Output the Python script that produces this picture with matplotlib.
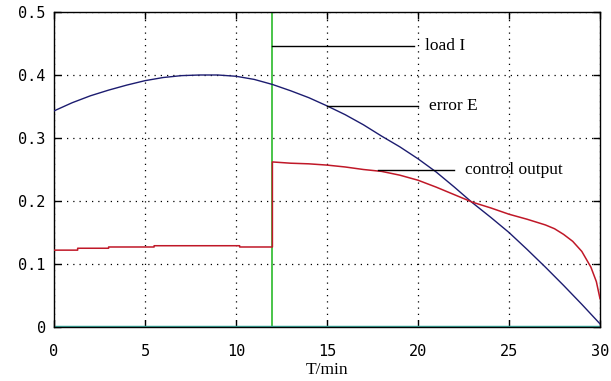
import matplotlib
matplotlib.use("Agg")
import matplotlib.pyplot as plt
import numpy as np

# error E (blue)
err_t = [0, 1, 2, 3, 4, 5, 6, 7, 8, 9, 10, 11, 12, 13, 14, 15, 16, 17, 18, 19, 20,
         21, 22, 23, 24, 25, 26, 27, 28, 29, 30]
err_v = [0.343, 0.356, 0.367, 0.376, 0.384, 0.391, 0.396, 0.399, 0.400, 0.400, 0.398,
         0.393, 0.385, 0.375, 0.364, 0.351, 0.337, 0.321, 0.303, 0.286, 0.267,
         0.246, 0.222, 0.197, 0.174, 0.150, 0.123, 0.095, 0.066, 0.036, 0.005]

# control output (red)
ctl_t = [0, 1.3, 1.3, 3.0, 3.0, 5.5, 5.5, 10.2, 10.2, 12.0, 12.0, 13, 14, 15, 16, 17,
         18, 19, 20, 21, 22, 23, 24, 25, 26, 27, 27.5, 28, 28.5, 29, 29.5, 29.8, 30]
ctl_v = [0.122, 0.122, 0.125, 0.125, 0.127, 0.127, 0.129, 0.129, 0.127, 0.127, 0.262,
         0.260, 0.259, 0.257, 0.254, 0.250, 0.247, 0.241, 0.233, 0.222, 0.210, 0.198,
         0.189, 0.179, 0.171, 0.162, 0.156, 0.147, 0.136, 0.120, 0.095, 0.072, 0.045]

load_t = 12
labels = ["load I", "error E", "control output"]
label_y = [0.446, 0.351, 0.249]
label_x0 = [12.0, 15.0, 17.8]
label_x1 = [19.8, 20.0, 22.0]

fig = plt.figure(figsize=(6.11, 3.81), dpi=100)
ax = fig.add_axes([54/611, 1-327/381, (600-54)/611, (327-12)/381])

ax.plot(err_t, err_v, color="#1c1c70", lw=1.0, zorder=3)
ax.plot(ctl_t, ctl_v, color="#c01828", lw=1.1, zorder=3)
ax.axvline(load_t, color="#3cbf3c", lw=1.3, zorder=2)
ax.axhline(0, color="#3fb0a4", lw=2.5, zorder=2)

for lab, y, x0, x1 in zip(labels, label_y, label_x0, label_x1):
    ax.plot([x0, x1], [y, y], color="black", lw=1.0, zorder=4)
    ax.text(x1 + 0.6, y, lab, family="Liberation Serif", fontsize=12.5,
            va="center", ha="left", zorder=5)

ax.set_xlim(0, 30)
ax.set_ylim(0, 0.5)
ax.set_xticks([0, 5, 10, 15, 20, 25, 30])
ax.set_yticks([0, 0.1, 0.2, 0.3, 0.4, 0.5])
ax.set_xticklabels(["0", "5", "10", "15", "20", "25", "30"])
ax.set_yticklabels(["0", "0.1", "0.2", "0.3", "0.4", "0.5"])
ax.tick_params(direction="in", top=True, right=True, length=5, width=1,
               labelsize=11)
ax.tick_params(axis="x", pad=12)
ax.tick_params(axis="y", pad=6)
for lab in ax.get_xticklabels() + ax.get_yticklabels():
    lab.set_family("DejaVu Sans Mono")
ax.grid(True, color="black", linestyle=(0, (1, 4)), lw=0.9)
for s in ax.spines.values():
    s.set_linewidth(1.0)
ax.set_xlabel("T/min", family="Liberation Serif", fontsize=12.5)
ax.xaxis.set_label_coords(0.5, -0.11)

fig.savefig("out.png", dpi=100)
